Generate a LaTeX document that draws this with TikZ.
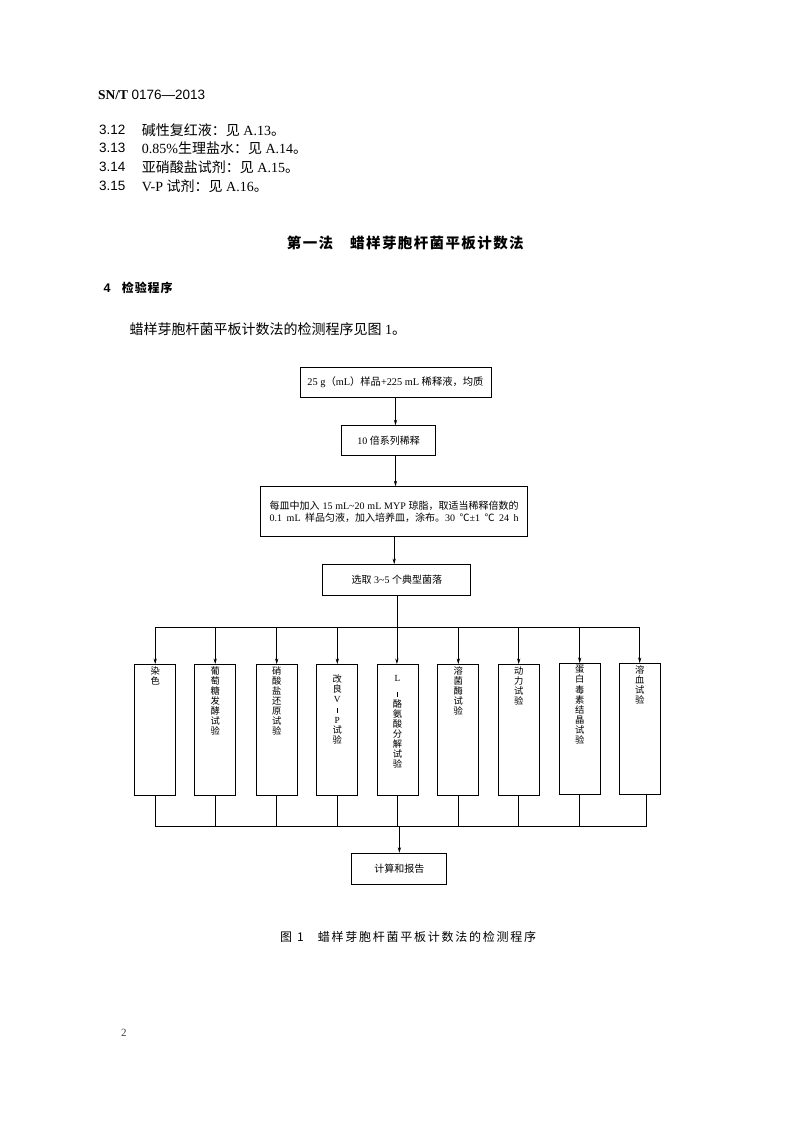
\documentclass[tikz,border=0pt]{standalone}
\usepackage{fontspec}
\setmainfont{Liberation Serif}
\setsansfont{Liberation Sans}
\newfontfamily\cjk{Noto Sans CJK SC}
\usetikzlibrary{arrows.meta,calc}
\newcommand\fs[1]{\fontsize{#1}{#1}\selectfont}
\def\spcloop#1{\ifx#1\relax\else#1\kern\spcamt\relax\expandafter\spcloop\fi}
\newcommand\spaced[2]{\def\spcamt{#1}\spcloop#2\relax}
\newcommand\vbar{\rule{0.45pt}{5.5pt}}
\newcommand\vt[2][2pt]{\parbox[c][131pt][t]{41pt}{\centering\cjk\fs{9.3}\baselineskip=10.1pt\lineskiplimit=-20pt\vspace*{#1}#2\par}}
\begin{document}
\begin{tikzpicture}[x=1pt,y=-1pt,
  txt/.style={inner sep=0pt, anchor=west},
  fbox/.style={draw, line width=0.9pt, inner sep=0pt, align=center},
  vbox/.style={draw, line width=0.9pt, inner sep=0pt, anchor=north},
  conn/.style={line width=0.55pt},
  arr/.style={conn, -{Stealth[length=5.5pt,width=3.2pt]}}]
\fill[white] (0,0) rectangle (798,1122);
\useasboundingbox (0,0) rectangle (798,1122);

% header and text
\node[txt] (hdr) at (98,95) {\fs{13.5}\textbf{SN/T} \sffamily 0176—2013};
\node[txt] (n312) at (99,130) {\sffamily\fs{13.5}3.12};
\node[txt] (t312) at (141.7,130) {\fs{14}{\cjk 碱性复红液：见} A.13{\cjk 。}};
\node[txt] (n313) at (99,148.3) {\sffamily\fs{13.5}3.13};
\node[txt] (t313) at (141.7,148.3) {\fs{14}0.85\%{\cjk 生理盐水：见} A.14{\cjk 。}};
\node[txt] (n314) at (99,166.7) {\sffamily\fs{13.5}3.14};
\node[txt] (t314) at (141.7,166.7) {\fs{14}{\cjk 亚硝酸盐试剂：见} A.15{\cjk 。}};
\node[txt] (n315) at (99,185.7) {\sffamily\fs{13.5}3.15};
\node[txt] (t315) at (141.7,185.7) {\fs{14}V-P {\cjk 试剂：见} A.16{\cjk 。}};

\node[txt] (ti1) at (286.7,243.3) {\cjk\bfseries\fs{14.5}\spaced{1.4pt}{第一法}};
\node[txt] (ti2) at (350,243.3) {\cjk\bfseries\fs{14.5}\spaced{1.4pt}{蜡样芽胞杆菌平板计数法}};

\node[txt] (s4n) at (103.3,288.3) {\sffamily\bfseries\fs{12.5}4};
\node[txt] (s4) at (121.7,288.3) {\cjk\bfseries\fs{12}\spaced{0.9pt}{检验程序}};

\node[txt] (intro) at (129.3,329.3) {\fs{14}{\cjk 蜡样芽胞杆菌平板计数法的检测程序见图} 1{\cjk 。}};

% flow boxes
\node[fbox, minimum width=191pt, minimum height=30pt] (n1) at (395.5,382)
  {\fs{10.3}25 g{\cjk （}mL{\cjk ）样品}+225 mL {\cjk 稀释液，均质}};
\node[fbox, minimum width=94pt, minimum height=30pt] (n2) at (388.7,440.7)
  {\fs{10}10 {\cjk 倍系列稀释}};
\node[fbox, minimum width=267pt, minimum height=50pt] (n3) at (394.2,511.7)
  {\fs{10}\baselineskip=16.6pt
   \makebox[249pt][s]{{\cjk 每皿中加入} 15 mL\textasciitilde 20 mL MYP {\cjk 琼脂，取适当稀释倍数的}}\\
   \makebox[249pt][s]{0.1 mL {\cjk 样品匀液，加入培养皿，涂布。}30 {\cjk ℃}±1 {\cjk ℃} 24 h}};
\node[fbox, minimum width=148pt, minimum height=31pt] (n4) at (396.9,580)
  {\fs{10}{\cjk 选取} 3\textasciitilde 5 {\cjk 个典型菌落}};

\draw[arr] (n1.south) -- (n1.south |- n2.north);
\draw[arr] (n2.south -| n1.south) -- (n1.south |- n3.north);
\draw[arr] (n3.south) -- (n3.south |- n4.north);

% test boxes
\node[vbox] (b1) at (155.2,664) {\vt{染\\色}};
\node[vbox] (b2) at (215.2,664) {\vt{葡\\萄\\糖\\发\\酵\\试\\验}};
\node[vbox] (b3) at (276.7,664) {\vt{硝\\酸\\盐\\还\\原\\试\\验}};
\node[vbox] (b4) at (337.3,664) {\vt[10.5pt]{改\\良\\{\rmfamily V}\\\vbar\\{\rmfamily P}\\试\\验}};
\node[vbox] (b5) at (397.5,664) {\vt[10.5pt]{{\rmfamily L}\\[6pt]\vbar\\酪\\氨\\酸\\分\\解\\试\\验}};
\node[vbox] (b6) at (458.3,664) {\vt{溶\\菌\\酶\\试\\验}};
\node[vbox] (b7) at (518.7,664) {\vt{动\\力\\试\\验}};
\node[vbox] (b8) at (579.7,663) {\vt{蛋\\白\\毒\\素\\结\\晶\\试\\验}};
\node[vbox] (b9) at (639.7,663) {\vt{溶\\血\\试\\验}};

\coordinate (bus) at (396.9,627);
\draw[arr] (n4.south) -- (n4.south |- b5.north);
\draw[conn] (b1.north |- bus) -- (b9.north |- bus);
\foreach \b in {b1,b2,b3,b4,b6,b7,b8,b9}
  \draw[arr] (\b.north |- bus) -- (\b.north);

% bottom
\node[fbox, minimum width=95pt, minimum height=31pt] (fin) at (399.4,868.7)
  {\cjk\fs{10}计算和报告};
\coordinate (bbus) at (397.3,826);
\coordinate (b9s) at ($(b9.south)+(7,0)$);
\foreach \b in {b1,b2,b3,b4,b5,b6,b7,b8}
  \draw[conn] (\b.south) -- (\b.south |- bbus);
\draw[conn] (b9s) -- (b9s |- bbus);
\draw[conn] (b1.south |- bbus) -- (b9s |- bbus);
\draw[arr] (fin.north |- bbus) -- (fin.north);

% caption
\node[txt] (cap) at (280,937) {\cjk\fs{12}图\hspace{5pt}1\hspace{14pt}\spaced{1.75pt}{蜡样芽胞杆菌平板计数法的检测程序}};

\node[txt] (pg) at (121,1033) {\fs{11}\color{black!75}2};
\end{tikzpicture}
\end{document}
